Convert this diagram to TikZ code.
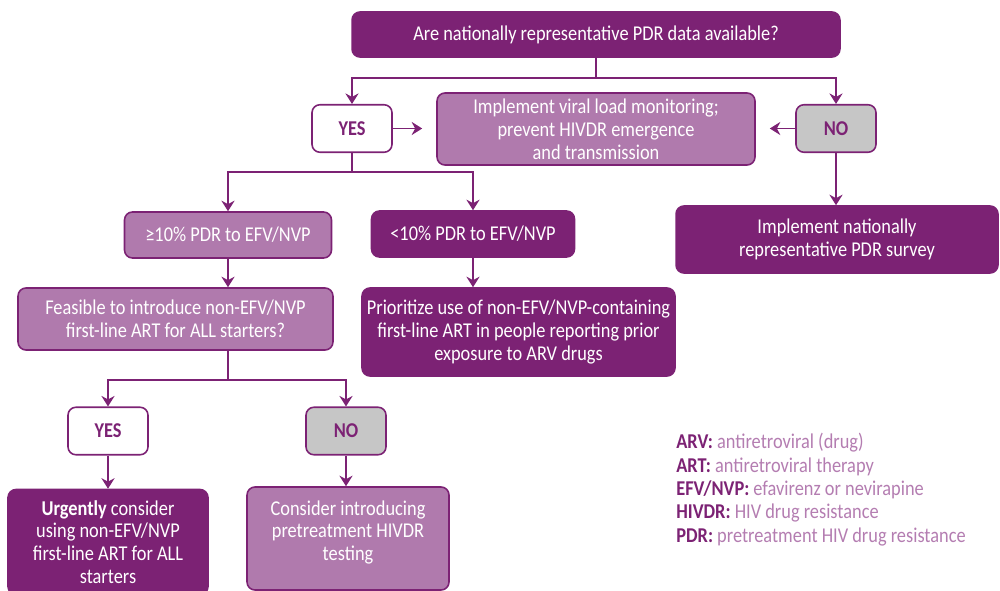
\documentclass[tikz,border=0pt]{standalone}
\usepackage{fontspec}
\setmainfont{Carlito}[FakeStretch=0.87]
\usetikzlibrary{arrows.meta}
\definecolor{darkp}{RGB}{124,34,116}
\definecolor{lightp}{RGB}{176,122,173}
\definecolor{greyb}{RGB}{198,198,198}
\definecolor{legp}{RGB}{180,125,177}

\begin{document}
\begin{tikzpicture}[x=0.02cm,y=-0.02cm,
    box/.style={draw=darkp,line width=0.9pt,rounded corners=4.5pt,inner sep=0pt,
      align=center,text=white,font=\fontsize{12}{13}\selectfont},
    darkbox/.style={box,fill=darkp},
    lightbox/.style={box,fill=lightp},
    answer/.style={box,text=darkp,font=\fontsize{12}{13}\selectfont\bfseries,
      minimum width=1.6cm,minimum height=0.95cm},
    conn/.style={draw=darkp,line width=1.1pt},
    arr/.style={conn,-{Stealth[length=6pt,width=7.5pt,inset=2pt]}}]
  \useasboundingbox (0,0) rectangle (1000,591);

  \node[darkbox,minimum width=9.76cm,minimum height=0.9cm] (top) at (596,34.5)
    {Are nationally representative PDR data available?};
  \node[answer,fill=white] (yes1) at (352,128.5) {YES};
  \node[answer,fill=greyb] (no1) at (836,128.5) {NO};
  \node[lightbox,minimum width=6.36cm,minimum height=1.44cm] (impl) at (596,129)
    {Implement viral load monitoring;\\prevent HIVDR emergence\\and transmission};
  \node[darkbox,minimum width=6.44cm,minimum height=1.34cm] (survey) at (837,239.5)
    {Implement nationally\\representative PDR survey};
  \node[lightbox,minimum width=4.14cm,minimum height=0.92cm] (hi) at (228,235)
    {≥10\% PDR to EFV/NVP};
  \node[darkbox,minimum width=4.06cm,minimum height=0.92cm] (lo) at (473,234)
    {<10\% PDR to EFV/NVP};
  \node[lightbox,minimum width=6.3cm,minimum height=1.24cm] (feas) at (175.5,319)
    {Feasible to introduce non-EFV/NVP\\first-line ART for ALL starters?};
  \node[darkbox,minimum width=6.26cm,minimum height=1.76cm] (prior) at (518.5,332)
    {Prioritize use of non-EFV/NVP-containing\\first-line ART in people reporting prior\\exposure to ARV drugs};
  \node[answer,fill=white] (yes2) at (108,431) {YES};
  \node[answer,fill=greyb] (no2) at (346,431) {NO};
  \node[darkbox,minimum width=4cm,minimum height=2.1cm] (urg) at (108,542)
    {\textbf{Urgently} consider\\using non-EFV/NVP\\first-line ART for ALL\\starters};
  \node[lightbox,minimum width=4.04cm,minimum height=2.06cm,text depth=9pt] (cons) at (348,538.5)
    {Consider introducing\\pretreatment HIVDR\\testing};
  \node[anchor=north west,align=left,inner sep=0pt,text=legp,
    font=\fontsize{12}{13.3}\selectfont] (legend) at (676,433)
    {\textcolor{darkp}{\textbf{ARV:}} antiretroviral (drug)\\
     \textcolor{darkp}{\textbf{ART:}} antiretroviral therapy\\
     \textcolor{darkp}{\textbf{EFV/NVP:}} efavirenz or nevirapine\\
     \textcolor{darkp}{\textbf{HIVDR:}} HIV drug resistance\\
     \textcolor{darkp}{\textbf{PDR:}} pretreatment HIV drug resistance};

  \coordinate (s1) at (596,78);
  \coordinate (s2) at (352,172);
  \coordinate (s3) at (228,380);
  \draw[conn] (top.south) -- (s1);
  \draw[arr] (s1) -| (yes1.north);
  \draw[arr] (s1) -| (no1.north);
  \draw[arr,shorten >=8pt] (yes1.east) -- (yes1.east -| impl.west);
  \draw[arr,shorten >=8pt] (no1.west) -- (no1.west -| impl.east);
  \draw[arr] (no1.south) -- (no1.south |- survey.north);
  \draw[conn] (yes1.south) -- (s2);
  \draw[arr] (s2) -| (hi.north);
  \draw[arr] (s2) -| (lo.north);
  \draw[arr] (hi.south) -- (hi.south |- feas.north);
  \draw[arr] (lo.south) -- (lo.south |- prior.north);
  \draw[conn] (hi.south |- feas.south) -- (s3);
  \draw[arr] (s3) -| (yes2.north);
  \draw[arr] (s3) -| (no2.north);
  \draw[arr] (yes2.south) -- (urg.north);
  \draw[arr] (no2.south) -- (no2.south |- cons.north);
\end{tikzpicture}
\end{document}
